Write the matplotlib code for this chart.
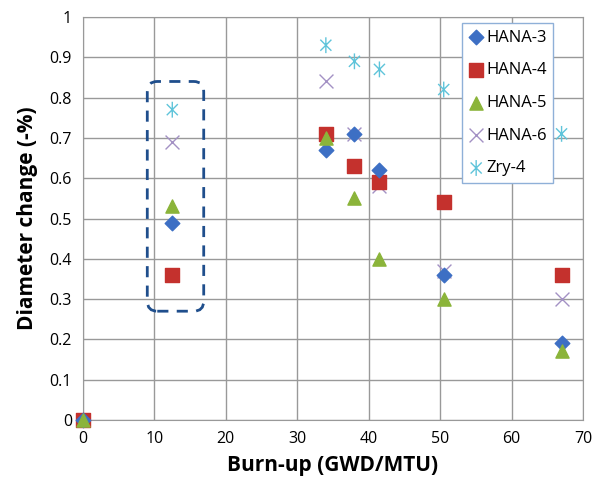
import numpy as np
import matplotlib
matplotlib.use("Agg")
import matplotlib.pyplot as plt
from matplotlib.path import Path
from matplotlib.patches import FancyBboxPatch

plt.rcParams['font.family'] = ['Open Sans', 'DejaVu Sans']

# data
burnup = [0, 12.5, 34, 38, 41.5, 50.5, 67]
hana3 = [0, 0.49, 0.67, 0.71, 0.62, 0.36, 0.19]
hana4 = [0, 0.36, 0.71, 0.63, 0.59, 0.54, 0.36]
hana5 = [0, 0.53, 0.70, 0.55, 0.40, 0.30, 0.17]
hana6_x = [12.5, 34, 38, 41.5, 50.5, 67]
hana6 = [0.69, 0.84, 0.71, 0.58, 0.37, 0.30]
zry_x = [12.5, 34, 38, 41.5, 50.5, 67]
zry4 = [0.77, 0.93, 0.89, 0.87, 0.82, 0.71]

# asterisk marker like excel's star (x plus vertical bar)
star = Path([(-0.7, -0.7), (0.7, 0.7), (-0.7, 0.7), (0.7, -0.7), (0, -1), (0, 1)],
            [Path.MOVETO, Path.LINETO, Path.MOVETO, Path.LINETO, Path.MOVETO, Path.LINETO])

fig = plt.figure(figsize=(5.95, 4.86), dpi=100)
ax = fig.add_axes([83/595, 1 - 420/486, 500/595, 403/486])

ax.scatter(burnup, hana3, marker='D', s=55, color='#3d6fc4', label='HANA-3', zorder=5, clip_on=False)
ax.scatter(burnup, hana4, marker='s', s=100, color='#c4312d', label='HANA-4', zorder=4, clip_on=False)
ax.scatter(burnup, hana5, marker='^', s=90, color='#8bb43a', label='HANA-5', zorder=6, clip_on=False)
ax.scatter(hana6_x, hana6, marker='x', s=100, color='#a391c4', linewidths=1.0, label='HANA-6', zorder=3)
ax.scatter(zry_x, zry4, marker=star, s=130, facecolor='none', edgecolor='#5fc4da', linewidths=1.0,
           label='Zry-4', zorder=3)

# dashed rounded box around the 12.5 GWD/MTU points
box = FancyBboxPatch((9.0, 0.27), 7.9, 0.57, boxstyle="round,pad=0,rounding_size=1.4",
                     mutation_aspect=0.018, fill=False, edgecolor='#1f4e8c', linewidth=2.0,
                     linestyle=(0, (4, 3)), zorder=7)
ax.add_patch(box)

ax.set_xlim(0, 70)
ax.set_ylim(0, 1)
ax.set_xticks(np.arange(0, 71, 10))
ax.set_yticks(np.arange(0, 1.01, 0.1))
ax.set_yticklabels(['0', '0.1', '0.2', '0.3', '0.4', '0.5', '0.6', '0.7', '0.8', '0.9', '1'])
ax.grid(True, color='#999999', linewidth=1.0)
ax.set_axisbelow(True)
for sp in ax.spines.values():
    sp.set_color('#999999')
ax.tick_params(length=0, labelsize=11.5, pad=8)

ax.set_xlabel('Burn-up (GWD/MTU)', fontsize=15, fontweight='bold', labelpad=6)
ax.set_ylabel('Diameter change (-%)', fontsize=15, fontweight='bold', labelpad=8)

leg = ax.legend(loc='upper left', bbox_to_anchor=(379/500, 0.985), borderaxespad=0, frameon=True,
                fancybox=False, fontsize=12, handletextpad=0.15, handlelength=0.9, labelspacing=1.0,
                borderpad=0.4, scatterpoints=1, framealpha=1)
leg.get_frame().set_edgecolor('#8fb0d8')
leg.get_frame().set_linewidth(1.0)
leg.set_zorder(10)

fig.savefig('out.png', dpi=100)
